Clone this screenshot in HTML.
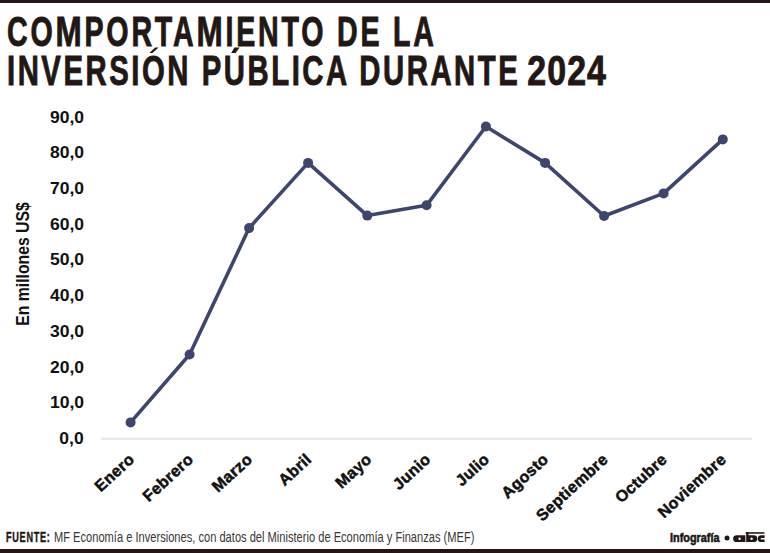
<!DOCTYPE html>
<html><head><meta charset="utf-8">
<style>
html,body{margin:0;padding:0;background:#fff;}
body{width:770px;height:553px;position:relative;overflow:hidden;font-family:"Liberation Sans",sans-serif;}
.bar{position:absolute;left:0;width:770px;background:#221714;}
.t{position:absolute;white-space:nowrap;font-weight:bold;color:#221714;font-size:43px;line-height:43px;-webkit-text-stroke:0.9px #221714;letter-spacing:3.7px;transform-origin:0 0;}
.yl{position:absolute;right:686px;font-weight:bold;color:#111;font-size:17px;line-height:17px;white-space:nowrap;transform-origin:100% 50%;transform:scaleX(1.03);}
.m{display:inline-block;transform:scaleX(1.1);transform-origin:0 50%;margin-right:3.58px;}
.d{display:inline-block;transform:scaleX(1.157);transform-origin:0 50%;letter-spacing:1.3px;margin-left:-5.4px;}
.ac{display:inline-block;clip-path:inset(5.6px -4px -4px -4px);}
.xl{position:absolute;font-weight:bold;color:#111;font-size:16px;line-height:16px;-webkit-text-stroke:0.5px #111;letter-spacing:0.35px;white-space:nowrap;transform-origin:100% 50%;transform:rotate(-42.5deg);}
.ft{position:absolute;white-space:nowrap;font-size:14.5px;line-height:14.5px;transform-origin:0 0;}
</style></head><body>
<div class="bar" style="top:0;height:3px"></div>
<div class="bar" style="top:549px;height:4px"></div>

<div class="t" style="left:7px;top:10px;letter-spacing:4.2px;transform:scaleX(0.665)">CO<span class="m">M</span>PORTA<span class="m">M</span>IENTO DE LA</div>
<div class="t" style="left:6.5px;top:49.4005px;transform:scaleX(0.682)">INVERSI<span class="ac">Ó</span>N P<span class="ac">Ú</span>BLICA DURANTE <span class="d">2024</span></div>
<svg style="position:absolute;left:0;top:0" width="770" height="100"><g fill="#221714"><polygon points="155.2,47.4 158.6,47.4 152.5,53.1 149.3,53.1"/><polygon points="234.4,47.6 239.6,47.6 235.6,53.1 231.2,53.1"/></g></svg>

<div class="yl" style="top:108.61px">90,0</div>
<div class="yl" style="top:144.31px">80,0</div>
<div class="yl" style="top:180.01px">70,0</div>
<div class="yl" style="top:215.71px">60,0</div>
<div class="yl" style="top:251.41px">50,0</div>
<div class="yl" style="top:287.11px">40,0</div>
<div class="yl" style="top:322.81px">30,0</div>
<div class="yl" style="top:358.51px">20,0</div>
<div class="yl" style="top:394.21px">10,0</div>
<div class="yl" style="top:429.91px">0,0</div>

<div style="position:absolute;left:23px;top:264px;width:0;height:0">
  <div style="position:absolute;left:-100px;top:-9px;width:200px;text-align:center;font-weight:bold;color:#111;font-size:17.5px;line-height:18px;white-space:nowrap;transform:rotate(-90deg) scaleX(0.9);transform-origin:100px 9px;">En millones US$</div>
</div>

<svg style="position:absolute;left:0;top:0" width="770" height="553" viewBox="0 0 770 553">
  <line x1="101" y1="438.8" x2="752" y2="438.8" stroke="#e5e5e5" stroke-width="2"/>
  <polyline fill="none" stroke="#3f466e" stroke-width="3.6" stroke-linejoin="round" points="130.6,422.4 189.6,354.5 249.1,228.1 308.1,162.9 367.3,215.6 426.6,205.3 485.9,126.5 545.1,162.9 604.1,216 663.6,193.4 722.8,139.4"/>
  <g fill="#3f466e">
    <circle cx="130.6" cy="422.4" r="5"/>
    <circle cx="189.6" cy="354.5" r="5"/>
    <circle cx="249.1" cy="228.1" r="5"/>
    <circle cx="308.1" cy="162.9" r="5"/>
    <circle cx="367.3" cy="215.6" r="5"/>
    <circle cx="426.6" cy="205.3" r="5"/>
    <circle cx="485.9" cy="126.5" r="5"/>
    <circle cx="545.1" cy="162.9" r="5"/>
    <circle cx="604.1" cy="216" r="5"/>
    <circle cx="663.6" cy="193.4" r="5"/>
    <circle cx="722.8" cy="139.4" r="5"/>
  </g>
</svg>

<div class="xl" style="right:637.8px;top:449px">Enero</div>
<div class="xl" style="right:578.8px;top:449px">Febrero</div>
<div class="xl" style="right:519.8px;top:449px">Marzo</div>
<div class="xl" style="right:460.8px;top:449px">Abril</div>
<div class="xl" style="right:400.8px;top:449px">Mayo</div>
<div class="xl" style="right:341.8px;top:449px">Junio</div>
<div class="xl" style="right:282.8px;top:449px">Julio</div>
<div class="xl" style="right:223.8px;top:449px">Agosto</div>
<div class="xl" style="right:164.8px;top:449px">Septiembre</div>
<div class="xl" style="right:104.8px;top:449px">Octubre</div>
<div class="xl" style="right:45.8px;top:449px">Noviembre</div>

<div class="ft" style="left:6px;top:530.6px;font-size:13.8px;line-height:13.8px;font-weight:bold;color:#221714;-webkit-text-stroke:0.4px #221714;letter-spacing:1.1px;transform:scaleX(0.66)">FUENTE:</div>
<div class="ft" style="left:53.6px;top:530.5px;font-size:13.8px;line-height:13.8px;color:#3a3536;transform:scaleX(0.805)">MF Economía e Inversiones, con datos del Ministerio de Economía y Finanzas (MEF)</div>
<div class="ft" style="left:669.5px;top:531.2px;font-size:13.2px;line-height:13.2px;font-weight:bold;color:#221714;-webkit-text-stroke:0.6px #221714;transform:scaleX(0.825)">Infografía</div>
<svg style="position:absolute;left:0;top:0" width="770" height="553" viewBox="0 0 770 553">
  <circle cx="727" cy="538" r="2.5" fill="#221714"/>
  <g fill="#221714">
    <rect x="745.6" y="532" width="18.8" height="1.9" fill="#4a4040"/>
    <path d="M737,535.2 H745.4 V542.1 H737 Q733.1,542.1 733.1,538.65 Q733.1,535.2 737,535.2 Z"/>
    <path d="M746.2,532.6 H748.6 V535.2 H753.6 Q757.3,535.2 757.3,538.65 Q757.3,542.1 753.6,542.1 H746.2 Z"/>
    <path d="M761.4,535.2 H764.6 V537.9 H760.8 V539.5 H764.6 V542.1 H761.4 Q757.8,542.1 757.8,538.65 Q757.8,535.2 761.4,535.2 Z"/>
  </g>
  <g fill="#fff">
    <circle cx="739.6" cy="538.8" r="1.2"/>
    <circle cx="751.6" cy="538.8" r="1.2"/>
  </g>
</svg>
</body></html>
